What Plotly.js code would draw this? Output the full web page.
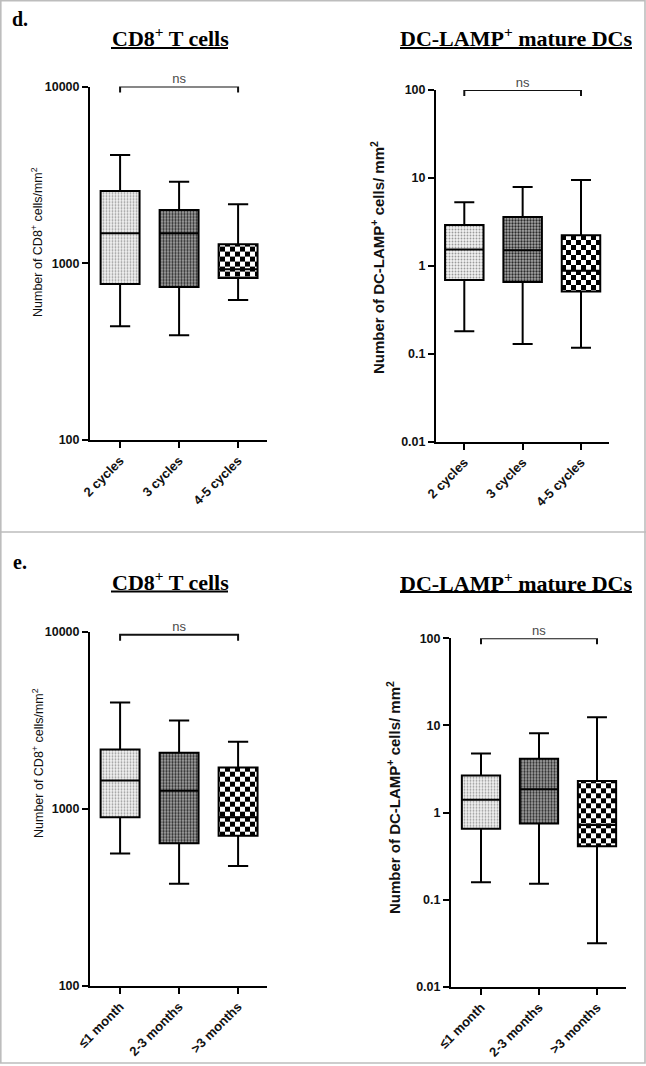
<!DOCTYPE html>
<html><head><meta charset="utf-8">
<script src="https://cdn.plot.ly/plotly-3.0.1.min.js"></script>
<style>html,body{margin:0;padding:0;background:#fff}</style>
</head><body><div id="chart" style="width:646px;height:1066px"></div>
<script>
// ---------- categories ----------
const cyclesCats = ['2 cycles', '3 cycles', '4-5 cycles'];
const monthsCats = ['≤1 month', '2-3 months', '>3 months'];

// ---------- d. CD8+ T cells by cycles ----------
const cd8CycLow  = [440, 391, 620];
const cd8CycQ1   = [764, 734, 826];
const cd8CycMed  = [1479, 1479, 925];
const cd8CycQ3   = [2567, 2004, 1281];
const cd8CycHigh = [4100, 2897, 2158];

// ---------- d. DC-LAMP+ mature DCs by cycles ----------
const dcCycLow  = [0.18, 0.129, 0.117];
const dcCycQ1   = [0.69, 0.656, 0.51];
const dcCycMed  = [1.53, 1.50, 0.88];
const dcCycQ3   = [2.92, 3.6, 2.23];
const dcCycHigh = [5.29, 7.9, 9.5];

// ---------- e. CD8+ T cells by months ----------
const cd8MonLow  = [559, 378, 476];
const cd8MonQ1   = [898, 640, 704];
const cd8MonMed  = [1445, 1264, 898];
const cd8MonQ3   = [2163, 2072, 1711];
const cd8MonHigh = [3985, 3155, 2391];

// ---------- e. DC-LAMP+ mature DCs by months ----------
const dcMonLow  = [0.158, 0.152, 0.0315];
const dcMonQ1   = [0.652, 0.746, 0.41];
const dcMonMed  = [1.40, 1.85, 0.72];
const dcMonQ3   = [2.66, 4.15, 2.30];
const dcMonHigh = [4.76, 8.1, 12.4];

// ---------- ticks ----------
const cd8TickVals = [100, 1000, 10000];
const cd8TickText = ['100', '1000', '10000'];
const dcTickVals = [0.01, 0.1, 1, 10, 100];
const dcTickText = ['0.01', '0.1', '1', '10', '100'];

// ---------- significance brackets ----------
const sigLabel = 'ns';
const cd8BracketTop = [10000, 9620];
const cd8BracketEnd = [9250, 8900];
const dcBracketTop = [100, 100];
const dcBracketEnd = [85.5, 85.5];

// ---------- styling ----------
const CHECK = 10;
const pattern = {
  shape: ['.', '.', '+'],
  fgcolor: ['#9a9a9a', '#2a2a2a', '#000000'],
  bgcolor: ['#f2f2f2', '#a8a8a8', '#ffffff'],
  size: [3, 3, CHECK],
  solidity: [0.3, 0.45, 0.5]
};
const tickFont = {family: 'Liberation Sans, Arial, sans-serif', size: 12.5, color: '#111', weight: 'bold'};
const xTickFont = {family: 'Liberation Sans, Arial, sans-serif', size: 13, color: '#111', weight: 'bold'};

function panel(cats, low, q1, med, q3, high, bTop, bEnd, xa, ya) {
  return [
    {
      type: 'bar', x: cats, base: q1, y: q3.map((v, i) => v - q1[i]),
      width: 0.66, xaxis: xa, yaxis: ya, hoverinfo: 'skip', showlegend: false,
      marker: {color: '#fff', line: {width: 0}, pattern: pattern}
    },
    {
      type: 'box', x: cats, q1: q1, median: med, q3: q3, lowerfence: low, upperfence: high,
      width: 0.66, whiskerwidth: 0.52, boxpoints: false, xaxis: xa, yaxis: ya,
      fillcolor: 'rgba(0,0,0,0)', line: {color: '#000', width: 2}, hoverinfo: 'skip', showlegend: false
    },
    {
      type: 'scatter', mode: 'lines', x: [cats[0], cats[0], cats[2], cats[2]],
      y: [bEnd, bTop, bTop, bEnd], xaxis: xa, yaxis: ya, cliponaxis: false,
      line: {color: '#111', width: 2}, hoverinfo: 'skip', showlegend: false
    },
    {
      type: 'scatter', mode: 'text', x: [cats[1]], y: [bTop], text: [sigLabel],
      textposition: 'top center', cliponaxis: false, xaxis: xa, yaxis: ya,
      textfont: {family: 'Liberation Sans, Arial, sans-serif', size: 13, color: '#4a4a4a'},
      hoverinfo: 'skip', showlegend: false
    }
  ];
}

const data = [].concat(
  panel(cyclesCats, cd8CycLow, cd8CycQ1, cd8CycMed, cd8CycQ3, cd8CycHigh, cd8BracketTop[0], cd8BracketEnd[0], 'x', 'y'),
  panel(cyclesCats, dcCycLow, dcCycQ1, dcCycMed, dcCycQ3, dcCycHigh, dcBracketTop[0], dcBracketEnd[0], 'x2', 'y2'),
  panel(monthsCats, cd8MonLow, cd8MonQ1, cd8MonMed, cd8MonQ3, cd8MonHigh, cd8BracketTop[1], cd8BracketEnd[1], 'x3', 'y3'),
  panel(monthsCats, dcMonLow, dcMonQ1, dcMonMed, dcMonQ3, dcMonHigh, dcBracketTop[1], dcBracketEnd[1], 'x4', 'y4')
);

function xAxis(domain, range, anchor) {
  return {domain: domain, range: range, anchor: anchor, type: 'category',
    showline: true, linecolor: '#000', linewidth: 2, ticks: 'outside', ticklen: 6, tickwidth: 2,
    tickcolor: '#000', tickangle: -45, tickfont: xTickFont, showgrid: false, zeroline: false, fixedrange: true};
}
function yAxis(domain, range, anchor, vals, text) {
  return {domain: domain, range: range, anchor: anchor, type: 'log',
    tickvals: vals, ticktext: text, showline: true, linecolor: '#000', linewidth: 2,
    ticks: 'outside', ticklen: 6, tickwidth: 2, tickcolor: '#000', tickfont: tickFont,
    showgrid: false, zeroline: false, fixedrange: true};
}
const H = 1066, W = 646;
const py = v => (H - v) / H, px = v => v / W;

const titleFont = {family: 'Liberation Serif, Times New Roman, serif', size: 22, color: '#000'};
const letterFont = {family: 'Liberation Serif, Times New Roman, serif', size: 20, color: '#000'};
const ytFontL = {family: 'Liberation Sans, Arial, sans-serif', size: 12.5, color: '#111'};
const ytFontR = {family: 'Liberation Sans, Arial, sans-serif', size: 15, color: '#111', weight: 'bold'};
function ann(text, x, y, font, extra) {
  return Object.assign({text: text, x: px(x), y: py(y), xref: 'paper', yref: 'paper',
    showarrow: false, xanchor: 'center', yanchor: 'middle', font: font}, extra || {});
}
function uline(x0, x1, y) {
  return {type: 'line', xref: 'paper', yref: 'paper', x0: px(x0), x1: px(x1), y0: py(y), y1: py(y),
    line: {color: '#000', width: 2}};
}

const layout = {
  width: W, height: H, margin: {l: 0, r: 0, t: 0, b: 0},
  paper_bgcolor: '#fff', plot_bgcolor: 'rgba(0,0,0,0)', showlegend: false,
  barmode: 'overlay',
  xaxis: xAxis([px(90), px(267)], [-0.51, 2.49], 'y'),
  yaxis: yAxis([py(440), py(86.6)], [2, 4], 'x', cd8TickVals, cd8TickText),
  xaxis2: xAxis([px(436), px(609)], [-0.485, 2.48], 'y2'),
  yaxis2: yAxis([py(441.7), py(90)], [-2, 2], 'x2', dcTickVals, dcTickText),
  xaxis3: xAxis([px(90), px(267)], [-0.51, 2.49], 'y3'),
  yaxis3: yAxis([py(986), py(631.7)], [2, 4], 'x3', cd8TickVals, cd8TickText),
  xaxis4: xAxis([px(451), px(626)], [-0.517, 2.5], 'y4'),
  yaxis4: yAxis([py(986.7), py(638.3)], [-2, 2], 'x4', dcTickVals, dcTickText),
  annotations: [
    ann('<b>d.</b>', 19.5, 19, letterFont),
    ann('<b>e.</b>', 19.5, 562, letterFont),
    ann('<b>CD8<sup>+</sup> T cells</b>', 170, 37, titleFont),
    ann('<b>DC-LAMP<sup>+</sup> mature DCs</b>', 516, 37, titleFont),
    ann('<b>CD8<sup>+</sup> T cells</b>', 170, 581, titleFont),
    ann('<b>DC-LAMP<sup>+</sup> mature DCs</b>', 516, 582, titleFont),
    ann('Number of CD8<sup>+</sup> cells/mm<sup>2</sup>', 37, 242, ytFontL, {textangle: -90}),
    ann('Number of CD8<sup>+</sup> cells/mm<sup>2</sup>', 38, 763, ytFontL, {textangle: -90}),
    ann('Number of DC-LAMP<sup>+</sup> cells/ mm<sup>2</sup>', 377, 258, ytFontR, {textangle: -90}),
    ann('Number of DC-LAMP<sup>+</sup> cells/ mm<sup>2</sup>', 393, 798, ytFontR, {textangle: -90})
  ],
  shapes: [
    {type: 'rect', xref: 'paper', yref: 'paper', x0: px(0.8), x1: px(645), y0: py(1063), y1: py(0.8),
      line: {color: '#bdbdbd', width: 1.6}},
    {type: 'line', xref: 'paper', yref: 'paper', x0: 0, x1: 1, y0: py(532), y1: py(532),
      line: {color: '#bdbdbd', width: 1.6}},
    uline(111, 228, 48), uline(400, 632, 48),
    uline(111, 228, 591.5), uline(400, 632, 592)
  ]
};

Plotly.newPlot('chart', data, layout, {staticPlot: true, displayModeBar: false}).then(function (gd) {
  const NS = 'http://www.w3.org/2000/svg';
  gd.querySelectorAll('pattern').forEach(function (p) {
    if (Math.abs(parseFloat(p.getAttribute('width')) - CHECK) < 0.01) {
      while (p.firstChild) p.removeChild(p.firstChild);
      const s = CHECK / 2;
      [[0, 0, CHECK, CHECK, '#fff'], [0, 0, s, s, '#000'], [s, s, s, s, '#000']].forEach(function (r) {
        const e = document.createElementNS(NS, 'rect');
        e.setAttribute('x', r[0]); e.setAttribute('y', r[1]);
        e.setAttribute('width', r[2]); e.setAttribute('height', r[3]);
        e.setAttribute('fill', r[4]);
        p.appendChild(e);
      });
    }
  });
});
</script>
</body></html>
